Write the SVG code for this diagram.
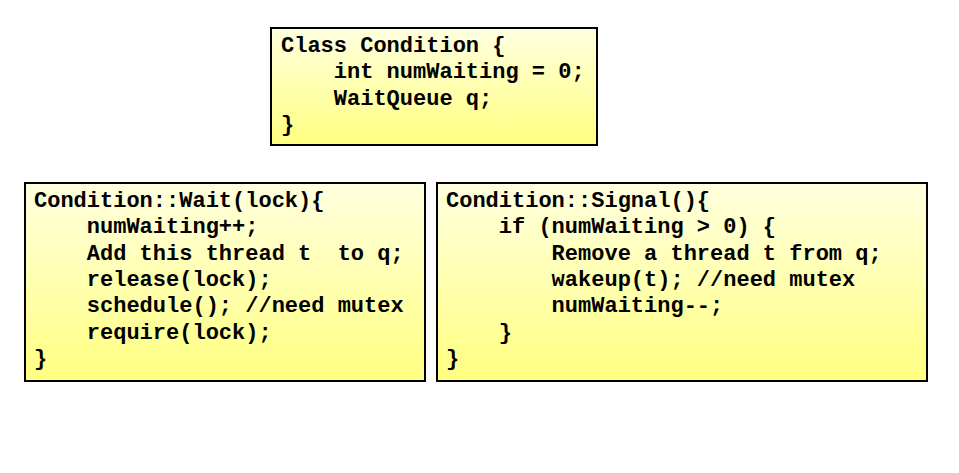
<svg xmlns="http://www.w3.org/2000/svg" width="959" height="473" viewBox="0 0 959 473">
<style>
  .box { fill: url(#yg); stroke: #000; stroke-width: 2; }
  .code { font-family: "Liberation Mono", "Courier New", monospace; font-weight: bold; font-size: 22px; fill: #000; white-space: pre; }
</style>
<defs>
  <linearGradient id="yg" x1="0" y1="0" x2="0" y2="1">
    <stop offset="0" stop-color="#FFFFE0"/>
    <stop offset="1" stop-color="#FFFF80"/>
  </linearGradient>
</defs>
<rect width="959" height="473" fill="#fff"/>
<g id="class-condition">
  <rect class="box" x="271" y="28" width="326" height="117"/>
  <text class="code" xml:space="preserve"><tspan x="281" y="52">Class Condition {</tspan><tspan x="281" y="78.4">    int numWaiting = 0;</tspan><tspan x="281" y="104.8">    WaitQueue q;</tspan><tspan x="281" y="131.2">}</tspan></text>
</g>
<g id="condition-wait">
  <rect class="box" x="25" y="183" width="400" height="198"/>
  <text class="code" xml:space="preserve"><tspan x="34" y="207">Condition::Wait(lock){</tspan><tspan x="34" y="233.3">    numWaiting++;</tspan><tspan x="34" y="259.6">    Add this thread t  to q;</tspan><tspan x="34" y="285.9">    release(lock);</tspan><tspan x="34" y="312.2">    schedule(); //need mutex</tspan><tspan x="34" y="338.5">    require(lock);</tspan><tspan x="34" y="364.8">}</tspan></text>
</g>
<g id="condition-signal">
  <rect class="box" x="437" y="183" width="490" height="198"/>
  <text class="code" xml:space="preserve"><tspan x="446" y="207">Condition::Signal(){</tspan><tspan x="446" y="233.3">    if (numWaiting &gt; 0) {</tspan><tspan x="446" y="259.6">        Remove a thread t from q;</tspan><tspan x="446" y="285.9">        wakeup(t); //need mutex</tspan><tspan x="446" y="312.2">        numWaiting--;</tspan><tspan x="446" y="338.5">    }</tspan><tspan x="446" y="364.8">}</tspan></text>
</g>
<g id="connectors"></g>
</svg>
